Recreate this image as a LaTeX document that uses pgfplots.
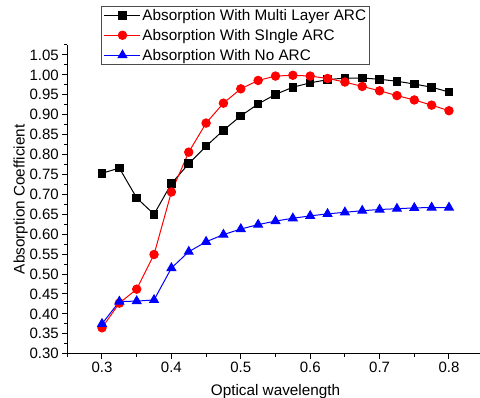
\documentclass[border=0pt]{standalone}
\usepackage{fontspec}
\setmainfont{Liberation Sans}
\usepackage{pgfplots}
\pgfplotsset{compat=1.18}
\begin{document}
\begin{tikzpicture}[x=1pt,y=1pt]
\path[use as bounding box, clip] (-67.3,-44.3) rectangle (412.7,353.7);
\begin{axis}[
  at={(0,0)}, anchor=south west,
  scale only axis, width=416.4pt, height=308.7pt,
  xmin=0.25, xmax=0.85, ymin=0.30, ymax=1.075,
  axis x line*=bottom, axis y line*=left,
  axis line style={-, line width=1pt, black},
  tick align=outside,
  major tick length=5pt, minor tick length=3pt,
  every tick/.style={line width=1pt, black},
  xtick={0.3,0.4,0.5,0.6,0.7,0.8},
  minor xtick={0.25,0.35,0.45,0.55,0.65,0.75,0.85},
  ytick={0.30,0.35,...,1.06},
  minor ytick={0.325,0.375,...,1.08},
  /pgf/number format/assume math mode=true,
  xticklabel style={/pgf/number format/.cd, fixed, fixed zerofill, precision=1},
  yticklabel style={/pgf/number format/.cd, fixed, fixed zerofill, precision=2},
  tick label style={font=\fontsize{15}{17}\selectfont},
  label style={font=\fontsize{15.3}{17}\selectfont},
  xlabel={Optical wavelength},
  ylabel={Absorption Coefficient},
  xlabel shift=5pt,
  ylabel shift=-5pt,
  legend style={at={(0.0821,1.1264)}, anchor=north west, draw=black!70, line width=1pt,
    font=\fontsize{15.3}{17}\selectfont, inner xsep=2pt, inner ysep=1pt,
    nodes={inner sep=1.5pt}, row sep=4.4pt},
  legend cell align=left,
  legend image code/.code={\draw[#1] (0pt,0pt) -- (36pt,0pt); \draw[#1, mark repeat=2, mark phase=2] plot coordinates {(0pt,0pt) (18pt,0pt) (36pt,0pt)};},
]
\addplot[black, line width=1pt, mark=square*, mark size=3.8pt, mark options={solid}] coordinates {
(0.3,0.753)(0.325,0.766)(0.35,0.691)(0.375,0.650)(0.4,0.727)(0.425,0.777)(0.45,0.821)(0.475,0.861)(0.5,0.897)(0.525,0.927)(0.55,0.951)(0.575,0.969)(0.6,0.980)(0.625,0.988)(0.65,0.992)(0.675,0.992)(0.7,0.989)(0.725,0.984)(0.75,0.977)(0.775,0.969)(0.8,0.957)};
\addlegendentry{Absorption With Multi Layer ARC}
\addplot[red, line width=1pt, mark=*, mark size=4.2pt] coordinates {
(0.3,0.365)(0.325,0.427)(0.35,0.462)(0.375,0.549)(0.4,0.706)(0.425,0.806)(0.45,0.879)(0.475,0.929)(0.5,0.965)(0.525,0.986)(0.55,0.997)(0.575,0.999)(0.6,0.997)(0.625,0.991)(0.65,0.982)(0.675,0.971)(0.7,0.960)(0.725,0.948)(0.75,0.937)(0.775,0.924)(0.8,0.910)};
\addlegendentry{Absorption With SIngle ARC}
\addplot[blue, line width=1pt, mark=triangle*, mark size=5pt] coordinates {
(0.3,0.375)(0.325,0.431)(0.35,0.432)(0.375,0.435)(0.4,0.515)(0.425,0.556)(0.45,0.581)(0.475,0.599)(0.5,0.613)(0.525,0.624)(0.55,0.633)(0.575,0.640)(0.6,0.646)(0.625,0.651)(0.65,0.655)(0.675,0.659)(0.7,0.662)(0.725,0.664)(0.75,0.666)(0.775,0.667)(0.8,0.667)};
\addlegendentry{Absorption With No ARC}
\end{axis}
\end{tikzpicture}
\end{document}
